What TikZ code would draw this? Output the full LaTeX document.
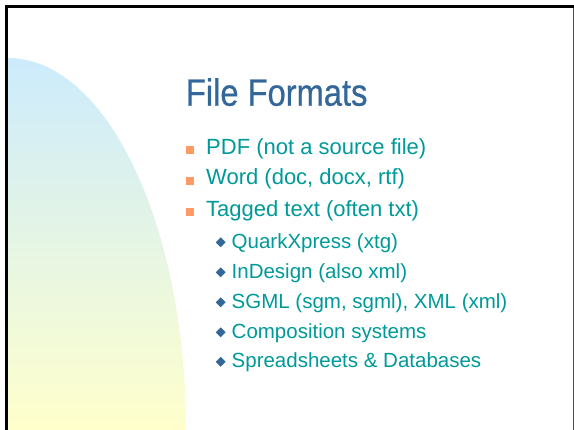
\documentclass[tikz,border=0pt]{standalone}
\usepackage{fontspec}
\setmainfont{Liberation Sans}
\newfontfamily\titlefont[FakeStretch=0.86, FakeBold=0.6]{Liberation Sans}
\usetikzlibrary{positioning, shapes.geometric}

\definecolor{titleblue}{RGB}{51,102,153}
\definecolor{itemteal}{RGB}{0,153,153}
\definecolor{bulletorange}{RGB}{255,153,102}
\definecolor{shadeblue}{RGB}{204,235,252}
\definecolor{shadeyellow}{RGB}{255,255,204}

\tikzset{
  itemone/.style={anchor=base west, inner sep=0pt, text=itemteal,
    font=\fontsize{22}{26}\selectfont},
  itemtwo/.style={anchor=base west, inner sep=0pt, text=itemteal,
    font=\fontsize{20.5}{24}\selectfont},
  squarebullet/.style={rectangle, fill=bulletorange, minimum size=8pt, inner sep=0pt},
  diamondbullet/.style={diamond, fill=titleblue, minimum size=10pt, inner sep=0pt}
}

\begin{document}
\begin{tikzpicture}[x=1pt, y=-1pt]
		\useasboundingbox (0,0) rectangle (574,430);
		
		% background shape and frame
		\shade[top color=shadeblue, bottom color=shadeyellow]
		(8,430) -- (8,58) arc[start angle=-90, end angle=0, x radius=178, y radius=372] -- cycle;
		\fill[black] (5,5) rectangle (574,8);
		\fill[black] (5,5) rectangle (8,430);
		\fill[black!70] (573,8) rectangle (574,430);
		
		\node[anchor=base west, inner sep=0pt, text=titleblue,
		font=\titlefont\fontsize{38}{44}\selectfont] (title) at (185.7,105.7) {File Formats};
		
		\node[squarebullet] (b1) at (190,150) {};
		\node[squarebullet] (b2) at (190,181) {};
		\node[squarebullet] (b3) at (190,212.5) {};
		\node[itemone] (pdf) at (206,154.3) {PDF (not a source file)};
		\node[itemone] (word) at (206,185) {Word (doc, docx, rtf)};
		\node[itemone] (tagged) at (206,216.7) {Tagged text (often txt)};
		
		\node[diamondbullet] (d1) at (220.7,242.3) {};
		\node[diamondbullet] (d2) at (220.7,272.3) {};
		\node[diamondbullet] (d3) at (220.7,302.3) {};
		\node[diamondbullet] (d4) at (220.7,332.3) {};
		\node[diamondbullet] (d5) at (220.7,361.8) {};
		\node[itemtwo] (quark) at (231.5,248.3) {QuarkXpress (xtg)};
		\node[itemtwo] (indesign) at (231.5,278.3) {InDesign (also xml)};
		\node[itemtwo] (sgml) at (231.5,308.3) {SGML (sgm, sgml), XML (xml)};
		\node[itemtwo] (comp) at (231.5,338.3) {Composition systems};
		\node[itemtwo] (sheets) at (231.5,367.8) {Spreadsheets \& Databases};
	\end{tikzpicture}
\end{document}
